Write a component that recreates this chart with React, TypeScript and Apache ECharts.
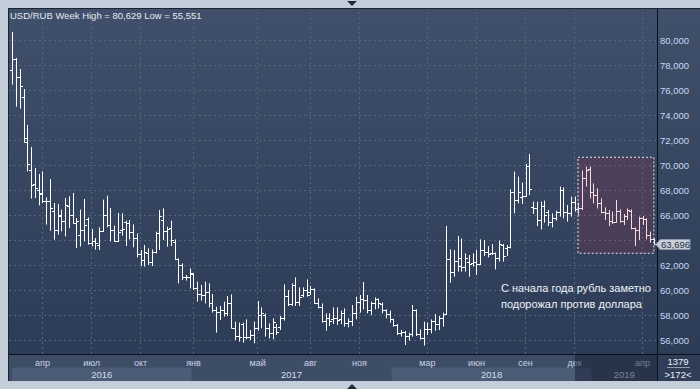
import React, { useEffect, useRef } from 'react';
import * as echarts from 'echarts';

// Weekly USD/RUB bars (open, high, low, close)
const open = [
  77.57, 78.48, 77.07, 75.41, 72.16, 69.63, 68.48, 68.0, 67.68, 67.15,
  67.15, 66.35, 64.8, 65.89, 65.55, 66.69, 66.03, 65.36, 64.37, 64.83,
  65.71, 63.76, 63.95, 63.63, 64.69, 65.97, 65.23, 64.83, 63.89, 64.8,
  65.47, 65.33, 64.67, 64.13, 62.88, 62.4, 62.93, 62.27, 63.07, 64.53,
  65.6, 64.75, 64.93, 63.87, 62.45, 62.0, 61.01, 61.07, 61.28, 60.13,
  59.68, 59.6, 59.87, 58.99, 58.4, 58.27, 58.4, 58.19, 58.99, 56.99,
  56.32, 57.28, 56.27, 56.21, 56.4, 56.93, 58.0, 58.0, 56.93, 56.53,
  57.07, 57.07, 57.73, 59.52, 58.88, 60.4, 59.07, 59.6, 60.0, 59.87,
  60.05, 58.99, 58.67, 57.55, 57.73, 57.65, 57.73, 57.65, 58.13, 57.33,
  57.55, 58.19, 59.07, 59.25, 59.2, 58.4, 58.93, 59.25, 58.88, 58.4,
  58.08, 57.65, 57.2, 56.59, 56.67, 56.32, 56.48, 58.4, 56.48, 56.13,
  56.85, 56.85, 57.55, 57.28, 57.73, 58.08, 62.45, 61.47, 62.35, 61.92,
  61.87, 62.27, 62.19, 62.27, 62.08, 63.2, 63.07, 62.93, 62.93, 62.53,
  63.6, 63.33, 63.41, 67.87, 67.2, 67.47, 67.52, 69.92, 66.67, 66.53,
  65.6, 66.72, 66.27, 65.47, 65.73, 66.27, 68.0, 66.27, 66.13, 67.07,
  66.45, 66.53, 68.93, 69.65, 67.87, 67.6, 66.93, 66.27, 66.13, 65.55,
  65.47, 66.35, 65.55, 65.92, 66.35, 64.93, 64.8, 65.73, 65.65, 64.4,
  64.05,
];
const high = [
  80.629, 78.56, 77.68, 76.08, 73.2, 71.44, 69.76, 69.28, 69.49, 67.41,
  68.88, 66.96, 66.88, 66.43, 67.36, 67.49, 67.76, 65.76, 66.43, 67.28,
  65.81, 64.88, 64.16, 65.01, 67.23, 67.55, 66.56, 65.15, 66.16, 66.13,
  65.55, 65.6, 65.25, 64.53, 63.2, 63.6, 63.33, 63.25, 64.67, 66.4,
  66.53, 65.07, 65.55, 64.05, 62.53, 62.13, 61.2, 61.73, 61.33, 60.67,
  60.4, 60.67, 60.53, 59.68, 58.67, 58.72, 59.07, 59.52, 59.65, 57.47,
  57.39, 57.39, 57.65, 56.8, 57.47, 59.12, 58.61, 58.13, 57.33, 57.73,
  57.28, 57.92, 60.45, 60.0, 60.53, 61.01, 60.21, 60.21, 60.85, 60.32,
  60.13, 59.33, 58.93, 58.13, 58.13, 58.61, 58.61, 58.35, 58.53, 57.73,
  58.8, 59.47, 59.6, 60.64, 59.6, 59.07, 59.41, 59.33, 59.0, 58.45,
  58.35, 57.7, 57.28, 56.8, 56.72, 56.59, 58.8, 58.45, 56.85, 57.47,
  57.39, 57.65, 58.08, 57.92, 58.19, 65.12, 63.25, 63.2, 64.32, 64.13,
  62.93, 62.8, 62.93, 63.2, 64.05, 64.0, 63.52, 63.68, 63.0, 63.95,
  63.68, 63.6, 68.05, 69.47, 69.07, 68.59, 70.08, 70.88, 67.07, 67.07,
  67.07, 67.15, 66.4, 66.13, 66.35, 68.27, 68.21, 66.8, 67.47, 67.47,
  66.99, 69.55, 69.87, 69.87, 68.53, 68.13, 67.33, 66.61, 66.4, 66.27,
  67.2, 66.45, 66.08, 66.53, 66.45, 65.0, 65.87, 65.92, 65.73, 64.67,
  64.13,
];
const low = [
  76.43, 74.67, 74.51, 71.8, 69.49, 67.31, 67.36, 66.77, 66.96, 65.23,
  64.75, 64.03, 64.43, 64.69, 64.29, 64.96, 65.3, 63.36, 63.49, 63.89,
  63.63, 63.49, 63.23, 63.2, 64.64, 65.01, 63.89, 63.85, 63.85, 64.35,
  63.52, 64.05, 63.41, 62.61, 61.92, 61.87, 62.0, 61.92, 62.93, 63.2,
  64.0, 63.47, 63.52, 62.4, 60.53, 60.8, 60.75, 60.13, 60.0, 59.07,
  59.15, 58.93, 58.61, 58.19, 56.59, 57.6, 57.87, 57.92, 56.93, 56.0,
  55.87, 55.79, 56.05, 56.0, 55.73, 56.75, 56.93, 56.27, 56.13, 56.05,
  56.4, 56.8, 57.55, 58.72, 58.72, 58.72, 58.72, 59.41, 59.47, 59.6,
  58.88, 58.53, 57.39, 56.75, 57.12, 57.28, 57.2, 57.28, 57.07, 57.01,
  57.12, 57.65, 58.19, 58.45, 58.13, 58.0, 58.45, 58.53, 58.13, 57.73,
  57.39, 57.07, 56.4, 56.27, 55.6, 55.95, 56.27, 56.32, 56.05, 55.551,
  56.4, 56.53, 56.75, 56.8, 57.07, 58.0, 60.59, 61.07, 61.47, 61.47,
  61.47, 61.07, 61.87, 61.2, 62.0, 62.72, 62.61, 62.8, 61.65, 62.27,
  62.27, 62.72, 63.33, 66.13, 66.93, 66.88, 67.45, 67.6, 66.08, 65.12,
  64.85, 65.39, 65.12, 65.01, 65.55, 65.87, 65.73, 65.47, 65.87, 66.27,
  66.0, 66.4, 68.27, 67.33, 66.93, 66.53, 66.13, 65.6, 65.12, 65.28,
  65.39, 65.39, 65.2, 65.6, 64.85, 63.52, 64.0, 65.2, 64.05, 63.79,
  63.65,
];
const close = [
  78.48, 77.07, 76.29, 71.84, 70.08, 68.43, 68.16, 67.73, 67.09, 67.09,
  66.56, 64.8, 66.03, 65.55, 66.83, 66.03, 65.36, 65.55, 64.83, 65.23,
  63.76, 63.95, 63.76, 64.69, 65.97, 65.23, 64.83, 63.89, 64.64, 64.88,
  65.33, 64.67, 64.13, 62.88, 62.4, 63.07, 62.27, 63.07, 64.53, 65.92,
  64.75, 64.85, 64.0, 62.45, 62.0, 61.01, 61.07, 61.33, 60.13, 59.68,
  59.6, 59.87, 58.99, 58.4, 58.27, 58.4, 58.19, 58.99, 56.99, 56.32,
  56.27, 56.27, 56.21, 56.4, 56.93, 58.0, 58.13, 56.93, 56.53, 57.47,
  56.67, 57.73, 59.52, 58.88, 60.4, 59.07, 59.47, 60.0, 59.6, 60.05,
  58.99, 58.67, 57.55, 57.73, 57.55, 57.73, 57.6, 58.13, 57.33, 57.55,
  58.19, 59.07, 59.25, 59.2, 58.4, 58.93, 59.25, 59.0, 58.4, 58.08,
  57.65, 57.2, 56.59, 56.67, 56.32, 56.48, 58.4, 56.48, 56.13, 56.85,
  56.85, 57.55, 57.28, 57.73, 58.08, 62.45, 61.47, 62.35, 62.53, 61.87,
  62.53, 62.08, 62.27, 62.08, 63.2, 63.07, 62.88, 62.93, 62.53, 63.68,
  62.72, 63.41, 67.87, 67.2, 67.87, 67.52, 69.92, 68.05, 66.53, 65.6,
  66.72, 66.0, 65.47, 65.73, 66.27, 68.0, 66.27, 66.13, 67.07, 66.45,
  66.53, 68.93, 69.6, 67.87, 67.6, 66.93, 66.27, 66.13, 65.55, 65.47,
  66.35, 65.55, 65.92, 66.4, 64.93, 64.8, 65.73, 65.65, 64.4, 64.05,
  63.696,
];

const priceTicks = [56, 58, 60, 62, 64, 66, 68, 70, 72, 74, 76, 78, 80];
// 64,000 sits under the last-price marker in the reference, so it is not labelled
const priceLabelTicks = [56, 58, 60, 62, 66, 68, 70, 72, 74, 76, 78, 80];
const monthTickIdx = [8, 21, 34, 48, 65, 79, 92, 110, 123, 136, 149, 167];
const monthTickLabels = ['апр', 'июл', 'окт', 'янв', 'май', 'авг', 'ноя', 'мар', 'июн', 'сен', 'дек', 'апр'];
const yearLabels = ['2016', '2017', '2018', '2019'];
const yearStartIdx = [0, 48, 101, 154];
const titleText = 'USD/RUB Week High = 80,629 Low = 55,551';
const noteLines = ['С начала года рубль заметно', 'подорожал против доллара'];
const lastPriceLabel = '63,696';
const cornerTop = '1379';
const cornerBottom = '>172<';
const highlight = { fromIdx: 149.9, toIdx: 170, low: 62.94, high: 70.62 };

const FONT = '"Liberation Sans", Arial, sans-serif';
const fmt = (v: number) => v.toFixed(3).replace('.', ',');

export default function App() {
  const ref = useRef<HTMLDivElement>(null);
  useEffect(() => {
    if (!ref.current) return;
    const chart = echarts.init(ref.current, undefined, { renderer: 'svg' });
    const data = open.map((o, i) => [i, o, high[i], low[i], close[i]]);
    const gridDash = { color: '#56667f', width: 1, type: [2, 3] as any };
    chart.setOption({
      animation: false,
      grid: { left: 9, right: 43, top: 9, bottom: 35, containLabel: false },
      xAxis: {
        type: 'value', min: -0.874, max: 170.83,
        axisLine: { show: false }, axisTick: { show: false }, splitLine: { show: false },
        axisLabel: {
          customValues: monthTickIdx,
          formatter: (v: number) => monthTickLabels[monthTickIdx.indexOf(v)] ?? '',
          color: '#c8d3e6', fontSize: 9, margin: 4, fontFamily: FONT,
        },
      },
      yAxis: {
        type: 'value', position: 'right', min: 54.88, max: 82.48,
        axisLine: { show: false }, axisTick: { show: false }, splitLine: { show: false },
        axisLabel: {
          customValues: priceLabelTicks, formatter: (v: number) => fmt(v),
          color: '#c7d9f3', fontSize: 9.5, margin: 3, fontFamily: FONT,
        },
      },
      series: [
        {
          type: 'line', data: [], z: 1, silent: true,
          markLine: {
            silent: true, symbol: ['none', 'none'], z: 1, animation: false,
            label: { show: false }, lineStyle: gridDash,
            data: [
              ...priceTicks.map((v) => ({ yAxis: v, lineStyle: gridDash })),
              ...monthTickIdx.map((i) => ({ xAxis: i, lineStyle: gridDash })),
            ],
          },
          markArea: {
            silent: true, z: 10, animation: false,
            label: { show: false },
            itemStyle: {
              color: 'rgba(200,40,60,0.16)', borderColor: '#e6e6ee', borderWidth: 1, borderType: [2, 2],
            },
            data: [[
              { xAxis: highlight.fromIdx, yAxis: highlight.high },
              { xAxis: highlight.toIdx, yAxis: highlight.low },
            ]],
          },
        },
        {
          type: 'custom', z: 3, clip: true, data,
          encode: { x: 0, y: [1, 2, 3, 4] },
          renderItem: (params: any, api: any) => {
            const i = api.value(0);
            const o = api.coord([i, api.value(1)]);
            const h = api.coord([i, api.value(2)]);
            const l = api.coord([i, api.value(3)]);
            const c = api.coord([i, api.value(4)]);
            const x = Math.round(o[0]) + 0.5;
            const st = { stroke: '#ffffff', lineWidth: 1 };
            const oy = Math.round(o[1]) + 0.5;
            const cy = Math.round(c[1]) + 0.5;
            return {
              type: 'group',
              children: [
                { type: 'line', shape: { x1: x, y1: h[1], x2: x, y2: l[1] }, style: st },
                { type: 'line', shape: { x1: x - 2.5, y1: oy, x2: x, y2: oy }, style: st },
                { type: 'line', shape: { x1: x, y1: cy, x2: x + 2.5, y2: cy }, style: st },
              ],
            };
          },
        },
      ],
    });

    const px = (i: number) => chart.convertToPixel({ xAxisIndex: 0 }, i) as number;
    const py = (v: number) => chart.convertToPixel({ yAxisIndex: 0 }, v) as number;
    const right = 657;
    const g: any[] = [];
    // backgrounds
    g.push({
      type: 'rect', z: -10, shape: { x: 8, y: 8, width: 692, height: 346 },
      style: {
        fill: { type: 'linear', x: 0, y: 0, x2: 0, y2: 1, colorStops: [
          { offset: 0, color: '#404f6a' }, { offset: 1, color: '#2c3b56' },
        ] },
      },
    });
    g.push({ type: 'rect', z: -10, shape: { x: 8, y: 354, width: 692, height: 27 }, style: { fill: '#3e4d66' } });
    yearStartIdx.forEach((s, k) => {
      if (k % 2 !== 0) return;
      const x0 = Math.max(12, px(s - 0.5));
      const x1 = k + 1 < yearStartIdx.length ? px(yearStartIdx[k + 1] - 0.5) : right;
      g.push({ type: 'rect', z: -9, shape: { x: x0, y: 367.5, width: x1 - x0, height: 13.5 }, style: { fill: '#4c5c77' } });
    });
    g.push({ type: 'rect', z: -9, shape: { x: 658, y: 355, width: 42, height: 26 }, style: { fill: '#2f3d56' } });
    // frame lines
    g.push({ type: 'line', z: 30, shape: { x1: 8, y1: 354.5, x2: 700, y2: 354.5 }, style: { stroke: '#0c1018', lineWidth: 1 } });
    g.push({ type: 'line', z: 30, shape: { x1: 657.5, y1: 8, x2: 657.5, y2: 381 }, style: { stroke: '#0c1018', lineWidth: 1 } });
    g.push({ type: 'line', z: 30, shape: { x1: 8.5, y1: 8, x2: 8.5, y2: 381 }, style: { stroke: '#1b2333', lineWidth: 1 } });
    g.push({ type: 'line', z: 30, shape: { x1: 8, y1: 8.5, x2: 700, y2: 8.5 }, style: { stroke: '#1b2333', lineWidth: 1 } });
    // year labels
    yearStartIdx.forEach((s, k) => {
      const x0 = Math.max(12, px(s - 0.5));
      const x1 = k + 1 < yearStartIdx.length ? px(yearStartIdx[k + 1] - 0.5) : right;
      g.push({
        type: 'text', z: 20, x: (x0 + x1) / 2, y: 374,
        style: { text: yearLabels[k], fill: '#d3dcea', font: `9.5px ${FONT}`, align: 'center', verticalAlign: 'middle' },
      });
    });
    // dark overlay on axis strip under highlight
    const hx = px(highlight.fromIdx) - 3;
    g.push({ type: 'rect', z: 50, shape: { x: hx, y: 355, width: right - hx, height: 26 }, style: { fill: 'rgba(14,22,40,0.45)' } });
    // title
    g.push({
      type: 'text', z: 20, x: 10, y: 15,
      style: { text: titleText, fill: '#e4eaf4', font: `9.5px ${FONT}`, verticalAlign: 'middle' },
    });
    // note
    noteLines.forEach((t, k) => {
      g.push({
        type: 'text', z: 20, x: 501, y: 288 + k * 16,
        style: { text: t, fill: '#eef2f8', font: `11px ${FONT}`, verticalAlign: 'middle' },
      });
    });
    // last price label
    const ly = Math.round(py(close[close.length - 1])) + 0.5;
    g.push({
      type: 'polygon', z: 40,
      shape: { points: [[656, ly], [660, ly - 5], [690, ly - 5], [690, ly + 5], [660, ly + 5]] },
      style: { fill: '#c8cdd6', stroke: '#8b95a7', lineWidth: 1 },
    });
    g.push({
      type: 'text', z: 41, x: 661, y: ly,
      style: { text: lastPriceLabel, fill: '#22324b', font: `9.5px ${FONT}`, verticalAlign: 'middle' },
    });
    // corner box
    g.push({ type: 'text', z: 20, x: 678, y: 361, style: { text: cornerTop, fill: '#e8eef8', font: `9.5px ${FONT}`, align: 'center', verticalAlign: 'middle' } });
    g.push({ type: 'line', z: 20, shape: { x1: 667, y1: 367.5, x2: 690, y2: 367.5 }, style: { stroke: '#8f9bb0', lineWidth: 1 } });
    g.push({ type: 'text', z: 20, x: 678, y: 374.5, style: { text: cornerBottom, fill: '#e8eef8', font: `9.5px ${FONT}`, align: 'center', verticalAlign: 'middle' } });
    // scroll triangles
    g.push({ type: 'polygon', z: 20, shape: { points: [[347, 1], [357, 1], [352, 6]] }, style: { fill: '#1f2a3a' } });
    g.push({ type: 'polygon', z: 20, shape: { points: [[347, 389], [357, 389], [352, 384]] }, style: { fill: '#1f2a3a' } });

    chart.setOption({ graphic: g });
    return () => chart.dispose();
  }, []);
  return (
    <div
      ref={ref}
      style={{ position: 'fixed', left: 0, top: 0, width: 700, height: 389, background: '#c4cedb' }}
    />
  );
}
